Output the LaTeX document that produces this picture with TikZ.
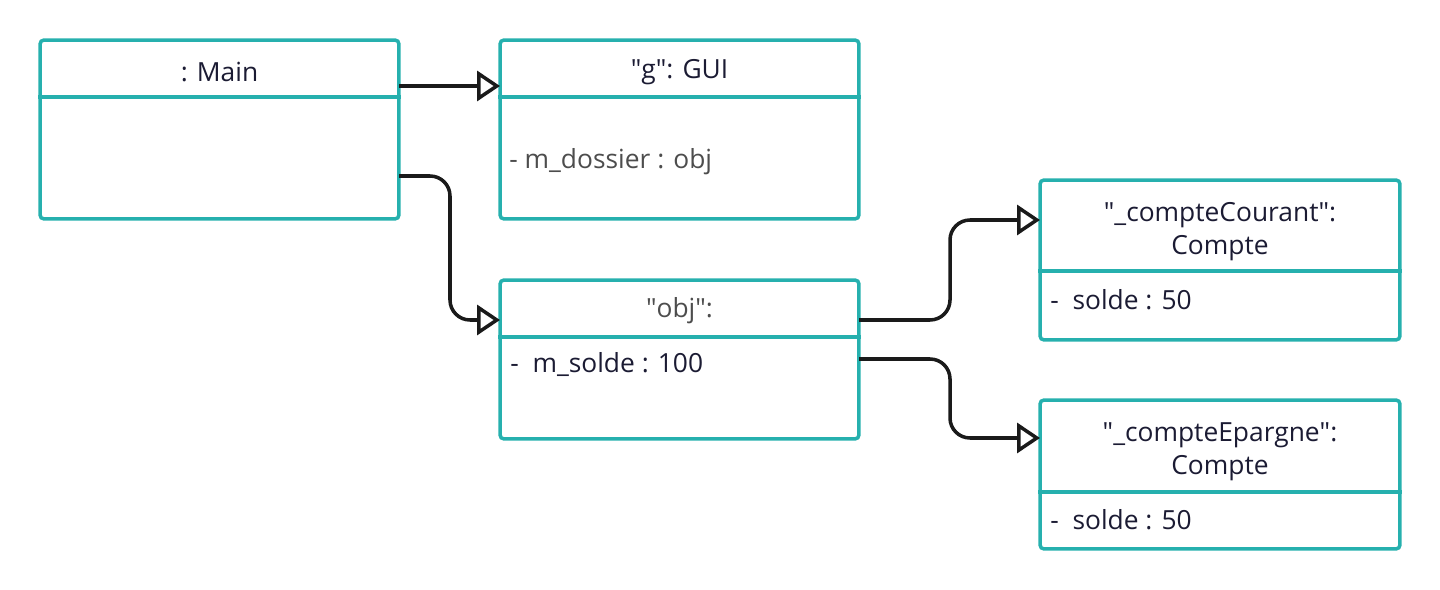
\documentclass[tikz,border=0pt]{standalone}
\usepackage{fontspec}
\setmainfont{Open Sans}
\usetikzlibrary{arrows.meta}
\definecolor{boxteal}{RGB}{38,176,174}
\definecolor{txtnavy}{RGB}{27,27,51}
\definecolor{txtgrey}{RGB}{77,77,77}
\tikzset{
    objbox/.style={draw=boxteal,line width=2pt,rounded corners=0.08cm,inner sep=0pt},
    sepline/.style={draw=boxteal,line width=2pt},
    title/.style={text=txtnavy,align=center,font=\fontsize{15}{18.8}\selectfont},
    attr/.style={text=txtnavy,anchor=west,inner sep=0pt,text height=1.5ex,text depth=.3ex,font=\fontsize{15}{18.8}\selectfont},
    assoc/.style={draw={rgb,255:red,26;green,26;blue,26},line width=2pt,line join=round,rounded corners=0.4cm,
        -{Triangle[open,length=0.46cm,width=0.6cm,line join=miter]}}
}
\begin{document}
\begin{tikzpicture}[x=0.02cm,y=-0.02cm]
    \useasboundingbox (0,0) rectangle (1440,590);

    % the five objects
    \node[objbox,minimum width=7.18cm,minimum height=3.58cm] (main) at (219.5,129.5) {};
    \node[objbox,minimum width=7.18cm,minimum height=3.58cm] (gui) at (679.5,129.5) {};
    \node[objbox,minimum width=7.18cm,minimum height=3.18cm] (obj) at (679.5,359.5) {};
    \node[objbox,minimum width=7.2cm,minimum height=3.2cm] (courant) at (1220,260) {};
    \node[objbox,minimum width=7.2cm,minimum height=2.98cm] (epargne) at (1220,474.5) {};

    \draw[sepline] (main.west |- 0,97)--(main.east |- 0,97);
    \draw[sepline] (gui.west |- 0,97)--(gui.east |- 0,97);
    \draw[sepline] (obj.west |- 0,337)--(obj.east |- 0,337);
    \draw[sepline] (courant.west |- 0,271)--(courant.east |- 0,271);
    \draw[sepline] (epargne.west |- 0,492)--(epargne.east |- 0,492);

    % texts
    \node[title] (mainT) at (219.5,72) {: Main};
    \node[title] (guiT) at (679.5,72) {\textquotedbl g\textquotedbl: GUI};
    \node[attr,text=txtgrey] (guiA) at (509,163) {- m\_dossier : obj};
    \node[title,text=txtgrey] (objT) at (679.5,311) {\textquotedbl obj\textquotedbl:};
    \node[attr] (objA) at (510,367) {-\ \ m\_solde : 100};
    \node[title] (courantT) at (1220,232) {\textquotedbl\_compteCourant\textquotedbl:\\Compte};
    \node[attr] (courantA) at (1050,304) {-\ \ solde : 50};
    \node[title] (epargneT) at (1220,452) {\textquotedbl\_compteEpargne\textquotedbl:\\Compte};
    \node[attr] (epargneA) at (1050,524) {-\ \ solde : 50};

    % connectors
    \coordinate (m1) at (399,86);
    \coordinate (g1) at (500,86);
    \coordinate (m2) at (399,176);
    \coordinate (o1) at (500,320);
    \coordinate (o2) at (859,320);
    \coordinate (o3) at (859,359);
    \coordinate (c1) at (1040,220);
    \coordinate (e1) at (1040,438);

    \draw[assoc] (m1)--(g1);
    \draw[assoc] (m2)--++(51,0)|-(o1);
    \draw[assoc] (o2)--++(91,0)|-(c1);
    \draw[assoc] (o3)--++(91,0)|-(e1);
\end{tikzpicture}
\end{document}
